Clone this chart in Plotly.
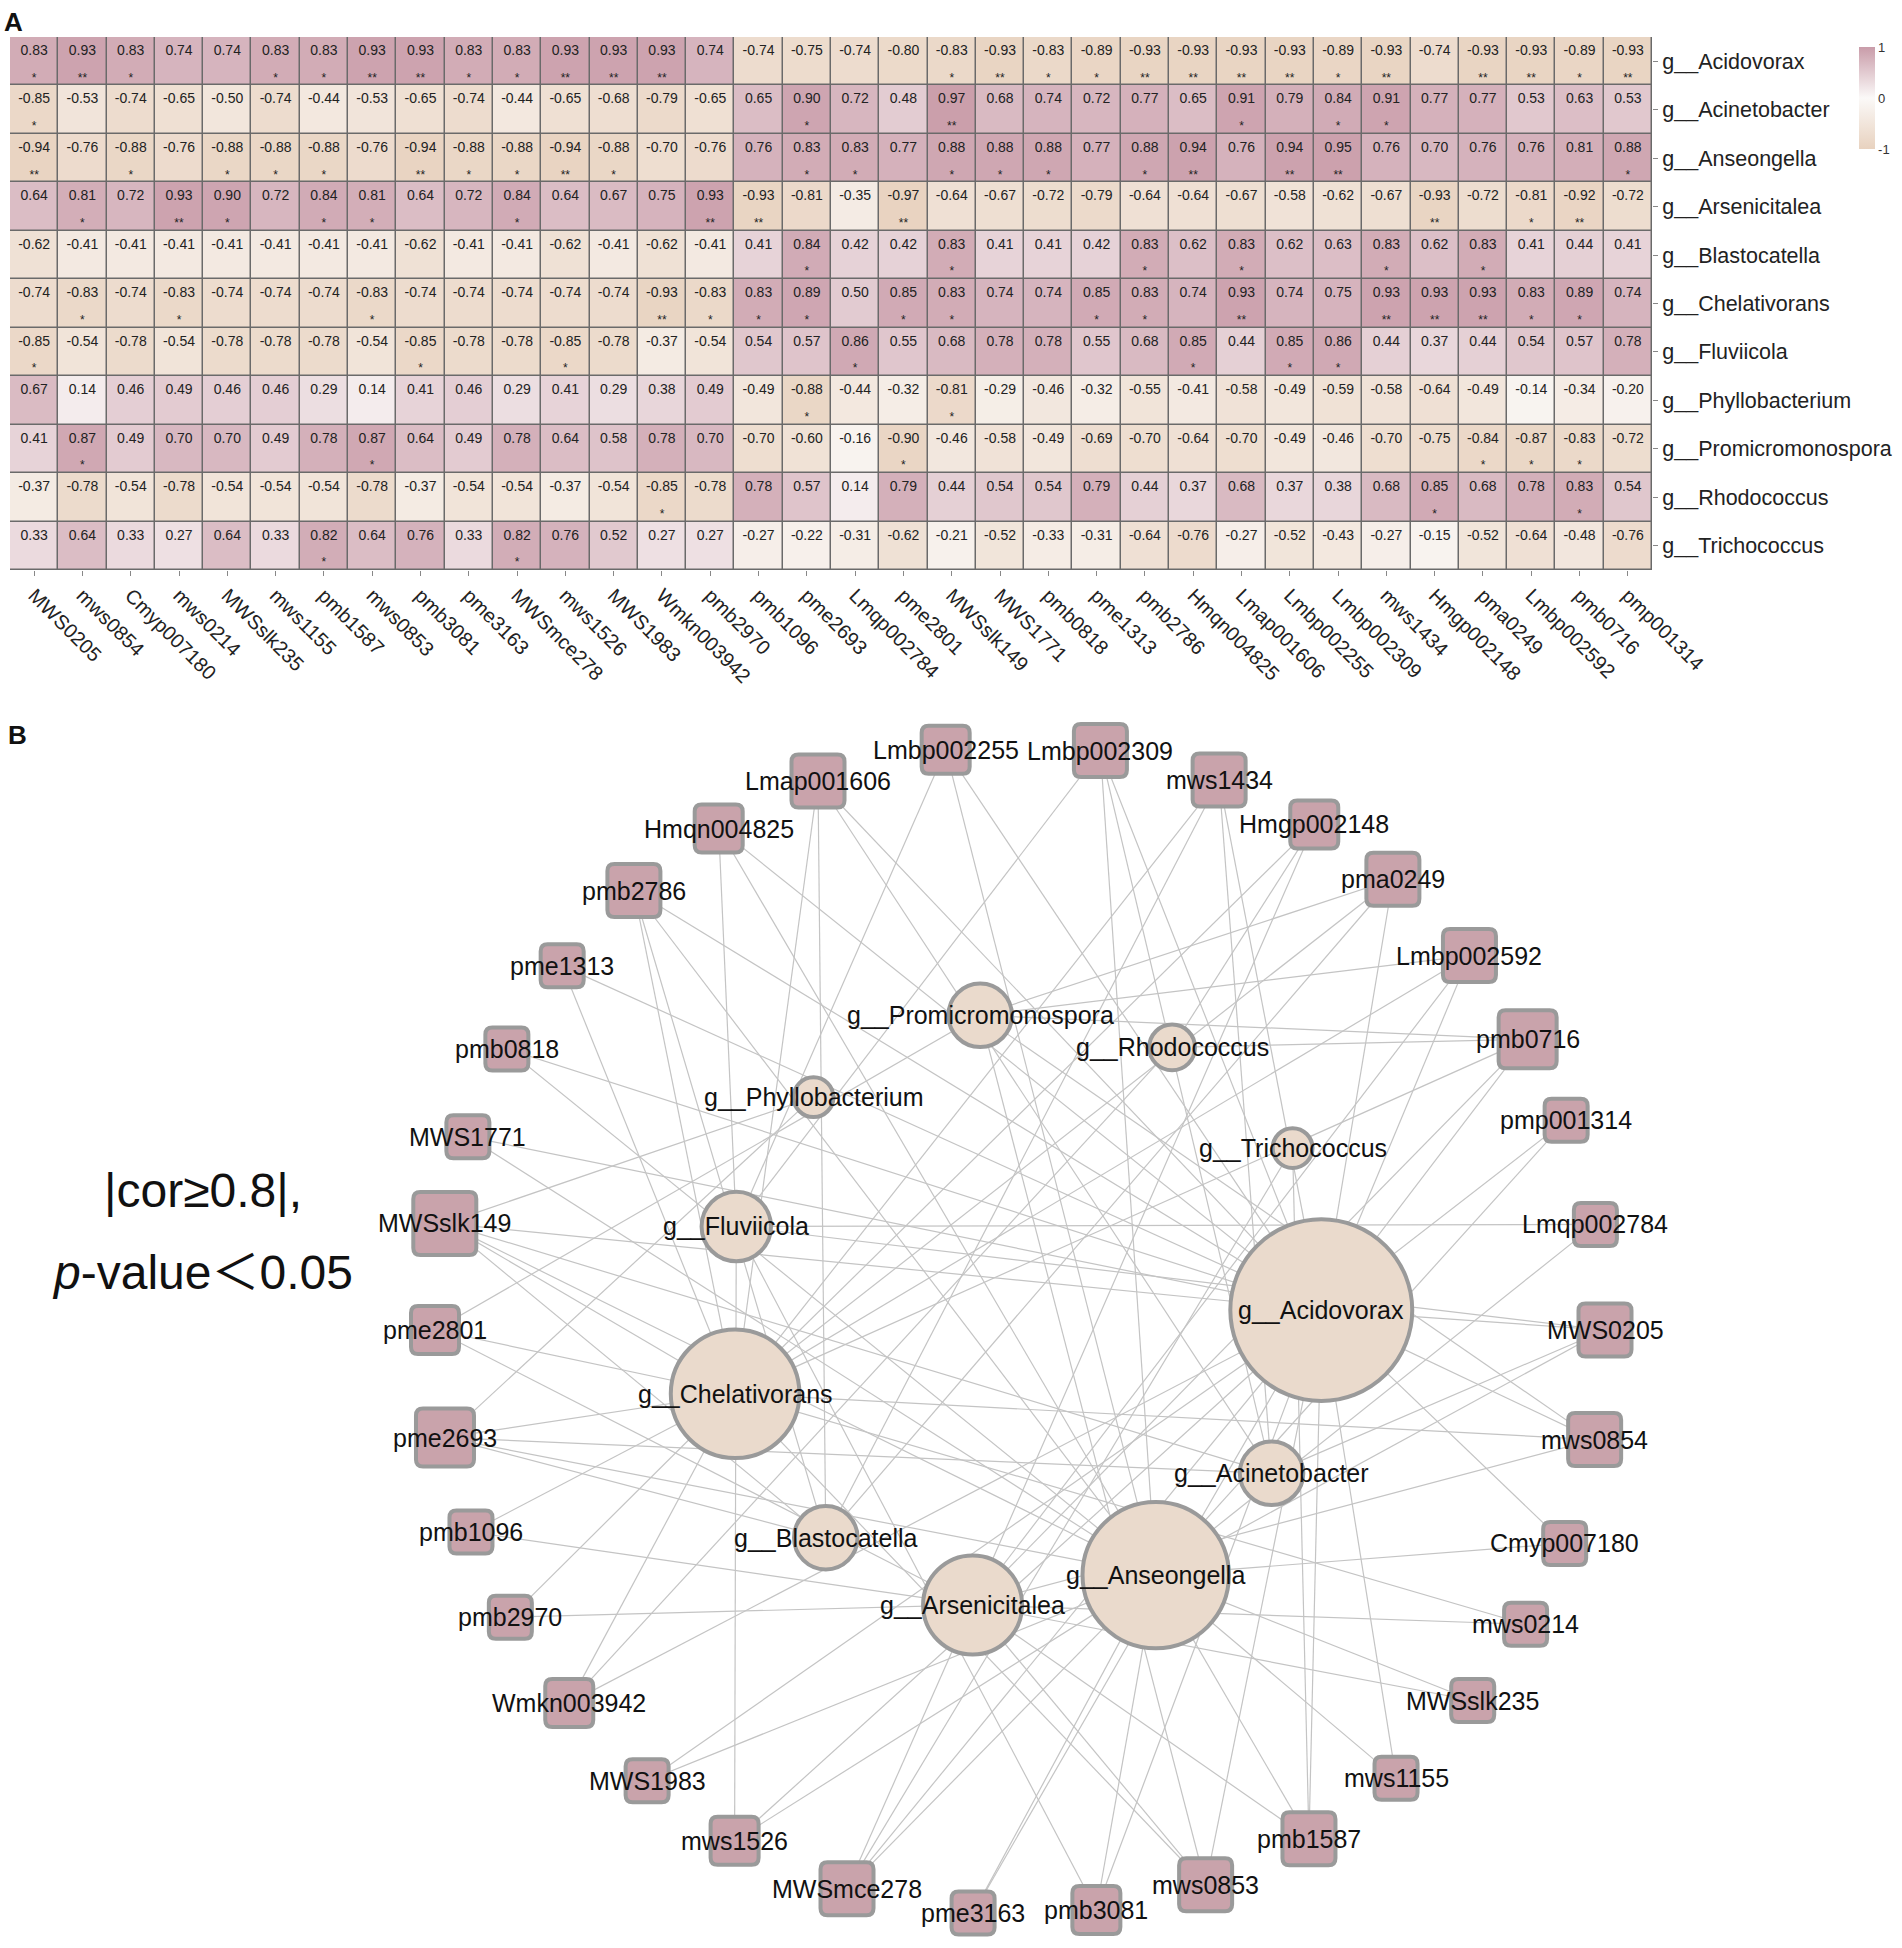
import math
import plotly.graph_objects as go

# ---------------- data ----------------
samples = ["MWS0205", "mws0854", "Cmyp007180", "mws0214", "MWSslk235", "mws1155", "pmb1587",
           "mws0853", "pmb3081", "pme3163", "MWSmce278", "mws1526", "MWS1983", "Wmkn003942",
           "pmb2970", "pmb1096", "pme2693", "Lmqp002784", "pme2801", "MWSslk149", "MWS1771",
           "pmb0818", "pme1313", "pmb2786", "Hmqn004825", "Lmap001606", "Lmbp002255",
           "Lmbp002309", "mws1434", "Hmgp002148", "pma0249", "Lmbp002592", "pmb0716", "pmp001314"]

genera = ["g__Acidovorax", "g__Acinetobacter", "g__Anseongella", "g__Arsenicitalea",
          "g__Blastocatella", "g__Chelativorans", "g__Fluviicola", "g__Phyllobacterium",
          "g__Promicromonospora", "g__Rhodococcus", "g__Trichococcus"]

cor_acidovorax = [0.83, 0.93, 0.83, 0.74, 0.74, 0.83, 0.83, 0.93, 0.93, 0.83, 0.83, 0.93, 0.93, 0.93, 0.74,
                  -0.74, -0.75, -0.74, -0.80, -0.83, -0.93, -0.83, -0.89, -0.93, -0.93, -0.93, -0.93, -0.89,
                  -0.93, -0.74, -0.93, -0.93, -0.89, -0.93]
cor_acinetobacter = [-0.85, -0.53, -0.74, -0.65, -0.50, -0.74, -0.44, -0.53, -0.65, -0.74, -0.44, -0.65, -0.68,
                     -0.79, -0.65, 0.65, 0.90, 0.72, 0.48, 0.97, 0.68, 0.74, 0.72, 0.77, 0.65, 0.91, 0.79, 0.84,
                     0.91, 0.77, 0.77, 0.53, 0.63, 0.53]
cor_anseongella = [-0.94, -0.76, -0.88, -0.76, -0.88, -0.88, -0.88, -0.76, -0.94, -0.88, -0.88, -0.94, -0.88,
                   -0.70, -0.76, 0.76, 0.83, 0.83, 0.77, 0.88, 0.88, 0.88, 0.77, 0.88, 0.94, 0.76, 0.94, 0.95,
                   0.76, 0.70, 0.76, 0.76, 0.81, 0.88]
cor_arsenicitalea = [0.64, 0.81, 0.72, 0.93, 0.90, 0.72, 0.84, 0.81, 0.64, 0.72, 0.84, 0.64, 0.67, 0.75, 0.93,
                     -0.93, -0.81, -0.35, -0.97, -0.64, -0.67, -0.72, -0.79, -0.64, -0.64, -0.67, -0.58, -0.62,
                     -0.67, -0.93, -0.72, -0.81, -0.92, -0.72]
cor_blastocatella = [-0.62, -0.41, -0.41, -0.41, -0.41, -0.41, -0.41, -0.41, -0.62, -0.41, -0.41, -0.62, -0.41,
                     -0.62, -0.41, 0.41, 0.84, 0.42, 0.42, 0.83, 0.41, 0.41, 0.42, 0.83, 0.62, 0.83, 0.62, 0.63,
                     0.83, 0.62, 0.83, 0.41, 0.44, 0.41]
cor_chelativorans = [-0.74, -0.83, -0.74, -0.83, -0.74, -0.74, -0.74, -0.83, -0.74, -0.74, -0.74, -0.74, -0.74,
                     -0.93, -0.83, 0.83, 0.89, 0.50, 0.85, 0.83, 0.74, 0.74, 0.85, 0.83, 0.74, 0.93, 0.74, 0.75,
                     0.93, 0.93, 0.93, 0.83, 0.89, 0.74]
cor_fluviicola = [-0.85, -0.54, -0.78, -0.54, -0.78, -0.78, -0.78, -0.54, -0.85, -0.78, -0.78, -0.85, -0.78,
                  -0.37, -0.54, 0.54, 0.57, 0.86, 0.55, 0.68, 0.78, 0.78, 0.55, 0.68, 0.85, 0.44, 0.85, 0.86,
                  0.44, 0.37, 0.44, 0.54, 0.57, 0.78]
cor_phyllobacterium = [0.67, 0.14, 0.46, 0.49, 0.46, 0.46, 0.29, 0.14, 0.41, 0.46, 0.29, 0.41, 0.29, 0.38, 0.49,
                       -0.49, -0.88, -0.44, -0.32, -0.81, -0.29, -0.46, -0.32, -0.55, -0.41, -0.58, -0.49, -0.59,
                       -0.58, -0.64, -0.49, -0.14, -0.34, -0.20]
cor_promicromonospora = [0.41, 0.87, 0.49, 0.70, 0.70, 0.49, 0.78, 0.87, 0.64, 0.49, 0.78, 0.64, 0.58, 0.78,
                         0.70, -0.70, -0.60, -0.16, -0.90, -0.46, -0.58, -0.49, -0.69, -0.70, -0.64, -0.70,
                         -0.49, -0.46, -0.70, -0.75, -0.84, -0.87, -0.83, -0.72]
cor_rhodococcus = [-0.37, -0.78, -0.54, -0.78, -0.54, -0.54, -0.54, -0.78, -0.37, -0.54, -0.54, -0.37, -0.54,
                   -0.85, -0.78, 0.78, 0.57, 0.14, 0.79, 0.44, 0.54, 0.54, 0.79, 0.44, 0.37, 0.68, 0.37, 0.38,
                   0.68, 0.85, 0.68, 0.78, 0.83, 0.54]
cor_trichococcus = [0.33, 0.64, 0.33, 0.27, 0.64, 0.33, 0.82, 0.64, 0.76, 0.33, 0.82, 0.76, 0.52, 0.27, 0.27,
                    -0.27, -0.22, -0.31, -0.62, -0.21, -0.52, -0.33, -0.31, -0.64, -0.76, -0.27, -0.52, -0.43,
                    -0.27, -0.15, -0.52, -0.64, -0.48, -0.76]

# significance level: 0 = none, 1 = *, 2 = **
sig_acidovorax = [1, 2, 1, 0, 0, 1, 1, 2, 2, 1, 1, 2, 2, 2, 0, 0, 0, 0, 0, 1, 2, 1, 1, 2, 2, 2, 2, 1, 2, 0, 2, 2, 1, 2]
sig_acinetobacter = [1, 0, 0, 0, 0, 0, 0, 0, 0, 0, 0, 0, 0, 0, 0, 0, 1, 0, 0, 2, 0, 0, 0, 0, 0, 1, 0, 1, 1, 0, 0, 0, 0, 0]
sig_anseongella = [2, 0, 1, 0, 1, 1, 1, 0, 2, 1, 1, 2, 1, 0, 0, 0, 1, 1, 0, 1, 1, 1, 0, 1, 2, 0, 2, 2, 0, 0, 0, 0, 0, 1]
sig_arsenicitalea = [0, 1, 0, 2, 1, 0, 1, 1, 0, 0, 1, 0, 0, 0, 2, 2, 0, 0, 2, 0, 0, 0, 0, 0, 0, 0, 0, 0, 0, 2, 0, 1, 2, 0]
sig_blastocatella = [0, 0, 0, 0, 0, 0, 0, 0, 0, 0, 0, 0, 0, 0, 0, 0, 1, 0, 0, 1, 0, 0, 0, 1, 0, 1, 0, 0, 1, 0, 1, 0, 0, 0]
sig_chelativorans = [0, 1, 0, 1, 0, 0, 0, 1, 0, 0, 0, 0, 0, 2, 1, 1, 1, 0, 1, 1, 0, 0, 1, 1, 0, 2, 0, 0, 2, 2, 2, 1, 1, 0]
sig_fluviicola = [1, 0, 0, 0, 0, 0, 0, 0, 1, 0, 0, 1, 0, 0, 0, 0, 0, 1, 0, 0, 0, 0, 0, 0, 1, 0, 1, 1, 0, 0, 0, 0, 0, 0]
sig_phyllobacterium = [0, 0, 0, 0, 0, 0, 0, 0, 0, 0, 0, 0, 0, 0, 0, 0, 1, 0, 0, 1, 0, 0, 0, 0, 0, 0, 0, 0, 0, 0, 0, 0, 0, 0]
sig_promicromonospora = [0, 1, 0, 0, 0, 0, 0, 1, 0, 0, 0, 0, 0, 0, 0, 0, 0, 0, 1, 0, 0, 0, 0, 0, 0, 0, 0, 0, 0, 0, 1, 1, 1, 0]
sig_rhodococcus = [0, 0, 0, 0, 0, 0, 0, 0, 0, 0, 0, 0, 0, 1, 0, 0, 0, 0, 0, 0, 0, 0, 0, 0, 0, 0, 0, 0, 0, 1, 0, 0, 1, 0]
sig_trichococcus = [0, 0, 0, 0, 0, 0, 1, 0, 0, 0, 1, 0, 0, 0, 0, 0, 0, 0, 0, 0, 0, 0, 0, 0, 0, 0, 0, 0, 0, 0, 0, 0, 0, 0]

colorbar_ticks = [-1, 0, 1]
cor_threshold = 0.8

# ---------------- network layout (positions only) ----------------
ring_order = ["MWS0205", "mws0854", "Cmyp007180", "mws0214", "MWSslk235", "mws1155", "pmb1587", "mws0853",
              "pmb3081", "pme3163", "MWSmce278", "mws1526", "MWS1983", "Wmkn003942", "pmb2970", "pmb1096",
              "pme2693", "pme2801", "MWSslk149", "MWS1771", "pmb0818", "pme1313", "pmb2786", "Hmqn004825",
              "Lmap001606", "Lmbp002255", "Lmbp002309", "mws1434", "Hmgp002148", "pma0249", "Lmbp002592",
              "pmb0716", "pmp001314", "Lmqp002784"]
ring_angles = [0, 10.8, 21.4, 30.2, 39.3, 50.0, 60.4, 71.5, 82.5, 94.6, 107.2, 119.2, 129.6, 140.4, 150.6,
               159.8, 169.4, 180.0, 190.5, 199.3, 208.7, 218.5, 228.7, 239.0, 249.8, 262.7, 277.9, 289.9,
               300.2, 309.6, 320.2, 330.2, 339.0, 349.6]
# genus positions as fractions of ring radius, relative to ring centre
genus_layout = {
    "g__Acidovorax": (0.515, -0.034), "g__Acinetobacter": (0.430, 0.245), "g__Anseongella": (0.232, 0.419),
    "g__Arsenicitalea": (-0.081, 0.470), "g__Blastocatella": (-0.332, 0.355), "g__Chelativorans": (-0.487, 0.109),
    "g__Fluviicola": (-0.485, -0.177), "g__Phyllobacterium": (-0.353, -0.398),
    "g__Promicromonospora": (-0.068, -0.538), "g__Rhodococcus": (0.260, -0.483), "g__Trichococcus": (0.466, -0.311),
}
RING_CX, RING_CY, RING_R = 1020, 1330, 585

W, H = 1902, 1948
FONT = "Liberation Sans, Arial, sans-serif"

cor = [cor_acidovorax, cor_acinetobacter, cor_anseongella, cor_arsenicitalea, cor_blastocatella,
       cor_chelativorans, cor_fluviicola, cor_phyllobacterium, cor_promicromonospora, cor_rhodococcus,
       cor_trichococcus]
sig = [sig_acidovorax, sig_acinetobacter, sig_anseongella, sig_arsenicitalea, sig_blastocatella,
       sig_chelativorans, sig_fluviicola, sig_phyllobacterium, sig_promicromonospora, sig_rhodococcus,
       sig_trichococcus]

nr, nc = len(genera), len(samples)

fig = go.Figure()

# ---------------- Panel A: heatmap ----------------
colorscale = [[0.0, "#e8d2bf"], [0.5, "#fbf9f8"], [1.0, "#c99ca9"]]
fig.add_trace(go.Heatmap(
    z=cor, x=list(range(nc)), y=list(range(nr)), zmin=-1, zmax=1, colorscale=colorscale,
    xgap=1.5, ygap=1.5, hoverinfo="skip", xaxis="x", yaxis="y",
    colorbar=dict(x=1849 / W, xanchor="left", y=1 - 37 / H, yanchor="top", len=122, lenmode="pixels",
                  thickness=16, outlinewidth=0, tickvals=colorbar_ticks,
                  ticktext=[str(v) for v in colorbar_ticks], ticks="", ticklabelposition="outside",
                  tickfont=dict(size=13, color="#333", family=FONT)),
))

vx, vy, vt, sx, sy, st = [], [], [], [], [], []
for i in range(nr):
    for j in range(nc):
        vx.append(j); vy.append(i - 0.2); vt.append(f"{cor[i][j]:.2f}")
        if sig[i][j] > 0:
            sx.append(j); sy.append(i + 0.36); st.append("*" * sig[i][j])
fig.add_trace(go.Scatter(x=vx, y=vy, text=vt, mode="text", hoverinfo="skip", showlegend=False,
                         textfont=dict(size=14, color="#222", family=FONT), xaxis="x", yaxis="y"))
fig.add_trace(go.Scatter(x=sx, y=sy, text=st, mode="text", hoverinfo="skip", showlegend=False,
                         textfont=dict(size=12, color="#222", family=FONT), xaxis="x", yaxis="y"))

# ---------------- Panel B: network ----------------
pos = {}
for name, ang in zip(ring_order, ring_angles):
    a = math.radians(ang)
    pos[name] = (RING_CX + RING_R * math.cos(a), RING_CY + RING_R * math.sin(a))
for g, (fx, fy) in genus_layout.items():
    pos[g] = (RING_CX + RING_R * fx, RING_CY + RING_R * fy)

edges = []
for i in range(nr):
    for j in range(nc):
        if sig[i][j] > 0 and abs(cor[i][j]) >= cor_threshold:
            edges.append((genera[i], samples[j]))

deg = {n: 0 for n in genera + samples}
for a, b in edges:
    deg[a] += 1
    deg[b] += 1

ex, ey = [], []
for a, b in edges:
    ex += [pos[a][0], pos[b][0], None]
    ey += [pos[a][1], pos[b][1], None]
fig.add_trace(go.Scatter(x=ex, y=ey, mode="lines", line=dict(color="#c4c4c4", width=1.2),
                         hoverinfo="skip", showlegend=False, xaxis="x2", yaxis="y2"))

shapes = [dict(type="rect", xref="x2 domain", yref="y2 domain", x0=0, x1=1, y0=0, y1=1,
               fillcolor="white", line=dict(width=0), layer="below")]

BORDER = "#9a9a9a"


def rounded_square(cx, cy, s, rad):
    h = s / 2
    x0, x1, y0, y1 = cx - h, cx + h, cy - h, cy + h
    return (f"M {x0 + rad},{y0} L {x1 - rad},{y0} Q {x1},{y0} {x1},{y0 + rad} "
            f"L {x1},{y1 - rad} Q {x1},{y1} {x1 - rad},{y1} L {x0 + rad},{y1} "
            f"Q {x0},{y1} {x0},{y1 - rad} L {x0},{y0 + rad} Q {x0},{y0} {x0 + rad},{y0} Z")


annotations = []
for s in samples:
    cx, cy = pos[s]
    side = 37 + 5 * deg[s] - 4
    shapes.append(dict(type="path", xref="x2", yref="y2", path=rounded_square(cx, cy, side, 7),
                       fillcolor="#c9a3ab", line=dict(color=BORDER, width=4), layer="above"))
    annotations.append(dict(x=cx, y=cy, xref="x2", yref="y2", text=s, showarrow=False,
                            font=dict(size=25, color="#111", family=FONT), xanchor="center", yanchor="middle"))

for g in sorted(genera, key=lambda n: deg[n]):
    cx, cy = pos[g]
    r = 16 + 2.96 * deg[g] - 2
    shapes.append(dict(type="circle", xref="x2", yref="y2", x0=cx - r, x1=cx + r, y0=cy - r, y1=cy + r,
                       fillcolor="#eadacc", line=dict(color=BORDER, width=4), layer="above"))
    annotations.append(dict(x=cx, y=cy, xref="x2", yref="y2", text=g, showarrow=False,
                            font=dict(size=25, color="#111", family=FONT), xanchor="center", yanchor="middle"))

# panel letters and threshold note
annotations += [
    dict(x=13 / W, y=1 - 22 / H, xref="paper", yref="paper", text="<b>A</b>", showarrow=False,
         font=dict(size=26, color="#111", family=FONT), xanchor="center", yanchor="middle"),
    dict(x=17 / W, y=1 - 735 / H, xref="paper", yref="paper", text="<b>B</b>", showarrow=False,
         font=dict(size=26, color="#111", family=FONT), xanchor="center", yanchor="middle"),
    dict(x=203 / W, y=1 - 1190 / H, xref="paper", yref="paper", text="|cor≥0.8|,", showarrow=False,
         font=dict(size=48, color="#111", family=FONT), xanchor="center", yanchor="middle"),
    dict(x=202 / W, y=1 - 1268 / H, xref="paper", yref="paper",
         text="<i>p</i>-value<span style='font-family:Noto Sans CJK SC'>＜</span>0.05", showarrow=False,
         font=dict(size=48, color="#111", family=FONT), xanchor="center", yanchor="middle"),
]

fig.update_layout(
    width=W, height=H, margin=dict(l=0, r=0, t=0, b=0), autosize=False,
    paper_bgcolor="white", plot_bgcolor="#6a6a6a", showlegend=False,
    font=dict(family=FONT, color="#222"),
    shapes=shapes, annotations=annotations,
    xaxis=dict(domain=[10 / W, 1652 / W], range=[-0.5, nc - 0.5], tickvals=list(range(nc)), ticktext=samples,
               tickangle=45, ticks="outside", ticklen=5, tickcolor="#888", showgrid=False, zeroline=False,
               showline=False, tickfont=dict(size=20, color="#222", family=FONT), automargin=False,
               fixedrange=True),
    yaxis=dict(domain=[1 - 570 / H, 1 - 37 / H], range=[nr - 0.5, -0.5], tickvals=list(range(nr)),
               ticktext=genera, side="right", ticks="outside", ticklen=5, tickcolor="#888", showgrid=False,
               zeroline=False, showline=False, tickfont=dict(size=21.5, color="#222", family=FONT),
               automargin=False, fixedrange=True),
    xaxis2=dict(domain=[0, 1], range=[0, W], visible=False, fixedrange=True, anchor="y2"),
    yaxis2=dict(domain=[0, 1 - 640 / H], range=[H, 640], visible=False, fixedrange=True, anchor="x2"),
)

fig.write_html("out.html", config={"displayModeBar": False},
               post_script="document.body.style.margin='0';document.body.style.overflow='hidden';")
